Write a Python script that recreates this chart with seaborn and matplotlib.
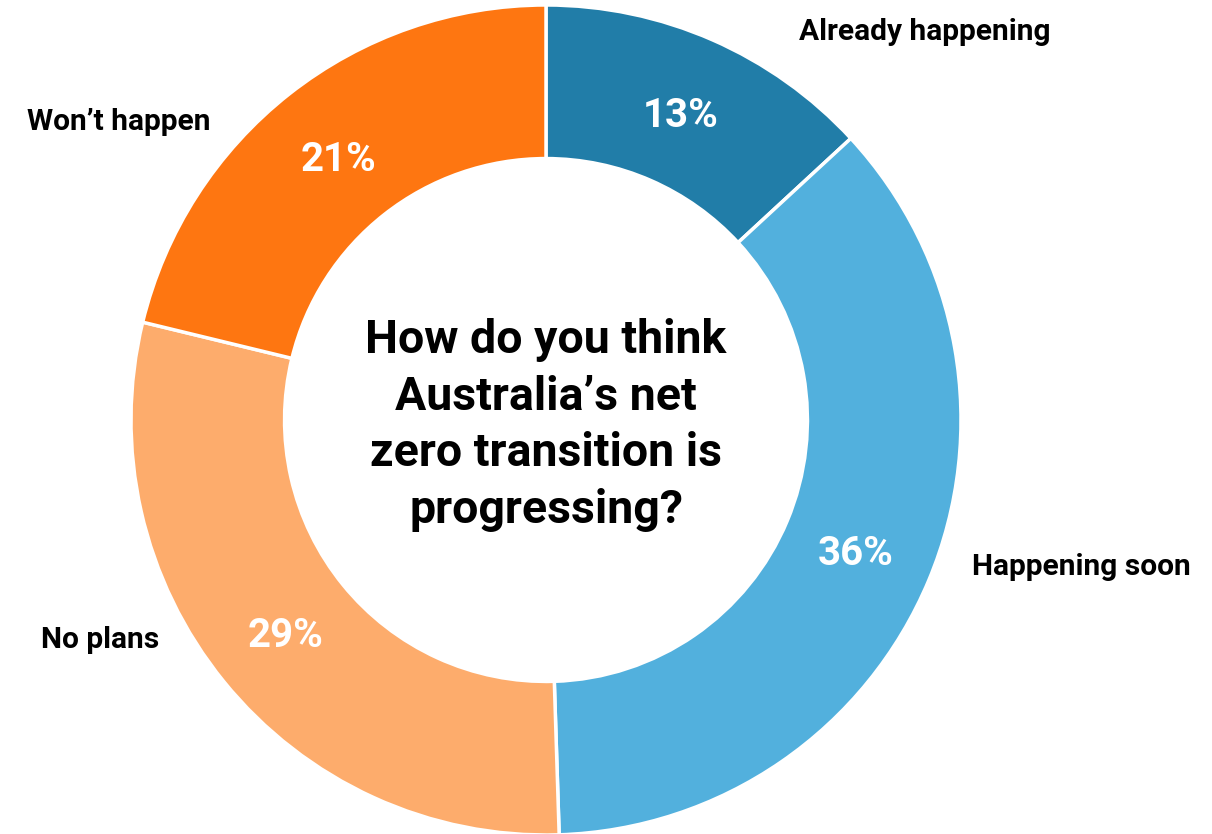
import matplotlib
matplotlib.use("Agg")
import matplotlib.pyplot as plt
import seaborn as sns

# data
categories = ["Already happening", "Happening soon", "No plans", "Won\u2019t happen"]
shares = [13, 36, 29, 21]
colours = ["#217da8", "#52b0dd", "#fdac6c", "#fe7611"]
question = "How do you think\nAustralia\u2019s net\nzero transition is\nprogressing?"

sns.set_theme(style="white")
plt.rcParams["font.family"] = ["Roboto", "DejaVu Sans"]

fig = plt.figure(figsize=(12.12, 8.34), dpi=100)
ax = fig.add_axes([0, 0, 1, 1])

wedges, texts, autotexts = ax.pie(
    shares,
    colors=colours,
    startangle=90,
    counterclock=False,
    autopct=lambda p: f"{p * sum(shares) / 100:.0f}%",
    pctdistance=0.81,
    wedgeprops=dict(width=0.37, edgecolor="white", linewidth=2.5),
    textprops=dict(color="white", fontsize=29, fontweight="bold"),
)
for t in autotexts:
    t.set_va("center_baseline")

# outer category labels (position in data coords, radius 1 = outer ring)
label_pos = [(0.913, 0.935), (1.29, -0.355), (-1.075, -0.53), (-1.03, 0.718)]
for name, (x, y) in zip(categories, label_pos):
    ax.text(x, y, name, ha="center", va="center", fontsize=21.5,
            fontweight="bold", color="black")

ax.text(0, -0.012, question, ha="center", va="center", fontsize=33.5,
        fontweight="bold", color="black", linespacing=1.36)

r = 415.0
cx, cy = 546.0, 420.0
ax.set_xlim(-cx / r, (1212 - cx) / r)
ax.set_ylim(-(834 - cy) / r, cy / r)
ax.set_aspect("auto")
ax.axis("off")

fig.savefig("out.png", dpi=100)
